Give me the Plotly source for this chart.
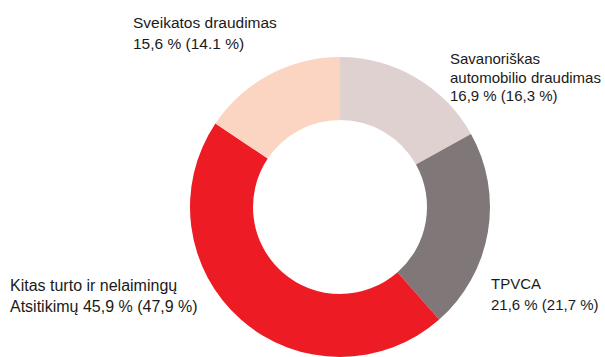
import plotly.graph_objects as go

# Portfolio structure: share of premiums by insurance class (previous year in brackets)
categories = [
    "Savanoriškas automobilio draudimas",
    "TPVCA",
    "Kitas turto ir nelaimingų atsitikimų",
    "Sveikatos draudimas",
]
shares = [16.9, 21.6, 45.9, 15.6]
colors = ["#E0D1D1", "#807779", "#ED1C24", "#FCD4C2"]

# Label lines, one entry per text line
label_lines = [
    ["Sveikatos draudimas", "15,6 % (14.1 %)"],
    ["Savanoriškas", "automobilio draudimas", "16,9 % (16,3 %)"],
    ["TPVCA", "21,6 % (21,7 %)"],
    ["Kitas turto ir nelaimingų", "Atsitikimų 45,9 % (47,9 %)"],
]

W, H = 605, 357
FONT = "Liberation Sans, Arial, sans-serif"

fig = go.Figure(
    go.Pie(
        labels=categories,
        values=shares,
        hole=0.58,
        sort=False,
        direction="clockwise",
        rotation=0,
        marker=dict(colors=colors, line=dict(width=0)),
        textinfo="none",
        hoverinfo="label+value",
        domain=dict(x=[190 / W, 490 / W], y=[0, 1 - 57 / H]),
        showlegend=False,
    )
)

# label anchor (left x, centre of first line, line step, font size) in pixels
anchors = [
    (131, 23, 20.5, 15.5),
    (448, 59, 18.5, 15),
    (489, 283, 21, 15),
    (8, 285, 21, 16),
]

annotations = []
for lines, (lx, ly, step, size) in zip(label_lines, anchors):
    for i, line in enumerate(lines):
        annotations.append(
            dict(
                text=line,
                x=lx / W,
                y=1 - (ly + i * step) / H,
                xref="paper",
                yref="paper",
                xanchor="left",
                yanchor="middle",
                showarrow=False,
                font=dict(family=FONT, size=size, color="#1A1A1A"),
            )
        )

fig.update_layout(
    width=W,
    height=H,
    margin=dict(l=0, r=0, t=0, b=0),
    paper_bgcolor="white",
    plot_bgcolor="white",
    annotations=annotations,
)

fig.write_html("out.html")
